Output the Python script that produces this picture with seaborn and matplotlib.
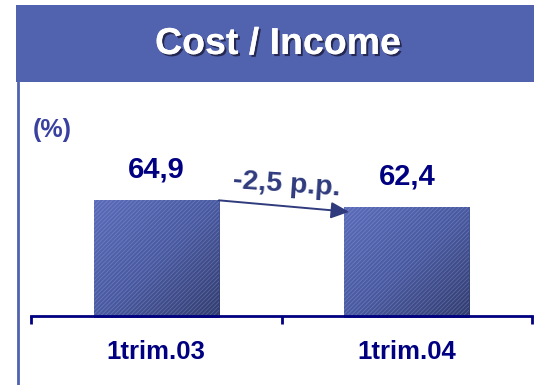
import matplotlib
matplotlib.use("Agg")
import matplotlib.pyplot as plt
import matplotlib.patheffects as pe
from matplotlib.patches import Rectangle
from matplotlib.lines import Line2D
from matplotlib.colors import LinearSegmentedColormap
import seaborn as sns
import numpy as np
import pandas as pd

# ---- data ----
categories = ["1trim.03", "1trim.04"]
values = [64.9, 62.4]
value_labels = ["64,9", "62,4"]
change_label = "-2,5 p.p."
unit_label = "(%)"
title = "Cost / Income"

sns.set_style("white")
plt.rcParams["font.family"] = ["Liberation Sans", "DejaVu Sans"]
plt.rcParams["hatch.linewidth"] = 0.6

W, H = 534, 385
fig = plt.figure(figsize=(W / 100, H / 100), dpi=100)

def fx(px):
    return px / W

def fy(py):
    return 1 - py / H

BANNER = "#5162AE"
NAVY = "#000080"
SLATE = "#2F3B7C"

# banner
fig.patches.append(Rectangle((fx(16), fy(82)), fx(534) - fx(16), fy(5) - fy(82),
                             transform=fig.transFigure, facecolor=BANNER, edgecolor="none"))
fig.text(fx(278), fy(44), title, color="white", fontsize=27, fontweight="bold",
         ha="center", va="center",
         path_effects=[pe.withSimplePatchShadow(offset=(1.5, -1.5), shadow_rgbFace="#1a1a3a", alpha=0.8),
                       pe.Normal()])
# left vertical rule
fig.add_artist(Line2D([fx(18), fx(18)], [fy(82), fy(385)], transform=fig.transFigure,
                      color=BANNER, lw=2))

# unit label
fig.text(fx(52), fy(130), unit_label, color="#3A40A0", fontsize=18, fontweight="bold",
         ha="center", va="center")

# main axes
ax = fig.add_axes([fx(31), fy(316), fx(532) - fx(31), fy(90) - fy(316)])
df = pd.DataFrame({"cat": categories, "val": values})
sns.barplot(data=df, x="cat", y="val", ax=ax, width=0.5, color="#4A5AA0",
            saturation=1, zorder=2)
ymin, ymax = 23.5, 104
ax.set_xlim(-0.5, 1.5)
ax.set_ylim(ymin, ymax)

cmap = LinearSegmentedColormap.from_list("g", ["#5B6BB8", "#4A5AA0", "#323C6E"])
gx, gy = np.meshgrid(np.linspace(0, 1, 100), np.linspace(0, 1, 100))
grad = (gx + gy) / 2
for p in ax.patches:
    x0 = p.get_x()
    x1 = x0 + p.get_width()
    y1 = p.get_y() + p.get_height()
    im = ax.imshow(grad, cmap=cmap, extent=(x0, x1, ymin - 0.7, y1), aspect="auto",
                   origin="upper", zorder=2.5, interpolation="bilinear")
    im.set_clip_path(p)
    p.set_facecolor("none")
    p.set_hatch("////////")
    p.set_edgecolor((0.75, 0.8, 1.0, 0.25))
    p.set_linewidth(0)
    p.set_zorder(3)

for s in ["top", "right", "left"]:
    ax.spines[s].set_visible(False)
ax.spines["bottom"].set_color(NAVY)
ax.spines["bottom"].set_linewidth(2)
ax.spines["bottom"].set_zorder(4)
ax.set_yticks([])
ax.set_xticks([-0.5, 0.5, 1.5])
ax.set_xticklabels([])
ax.set_xticks([0, 1], minor=True)
ax.set_xticklabels(categories, minor=True, fontsize=18.5, fontweight="bold", color=NAVY)
ax.tick_params(axis="x", which="major", direction="out", length=6, width=2, color=NAVY, bottom=True)
ax.tick_params(axis="x", which="minor", length=0, pad=17)
ax.set_xlabel("")
ax.set_ylabel("")

# value labels
for i, (v, lab) in enumerate(zip(values, value_labels)):
    ax.annotate(lab, xy=(i, v), xytext=(0, 22), textcoords="offset points",
                ha="center", va="center", fontsize=21, fontweight="bold", color=NAVY)

# change arrow
ax.annotate("", xy=(0.77, values[1] - 1.8), xytext=(0.25, values[0] - 0.2),
            arrowprops=dict(arrowstyle="-|>,head_length=1.1,head_width=0.5",
                            color=SLATE, lw=1.4, shrinkA=0, shrinkB=0), zorder=5)
ax.annotate(change_label, xy=(0.52, values[0]), xytext=(0, 11), textcoords="offset points",
            ha="center", va="center", fontsize=20.5, fontweight="bold", color=SLATE, rotation=-4)

fig.savefig("out.png", dpi=100)
